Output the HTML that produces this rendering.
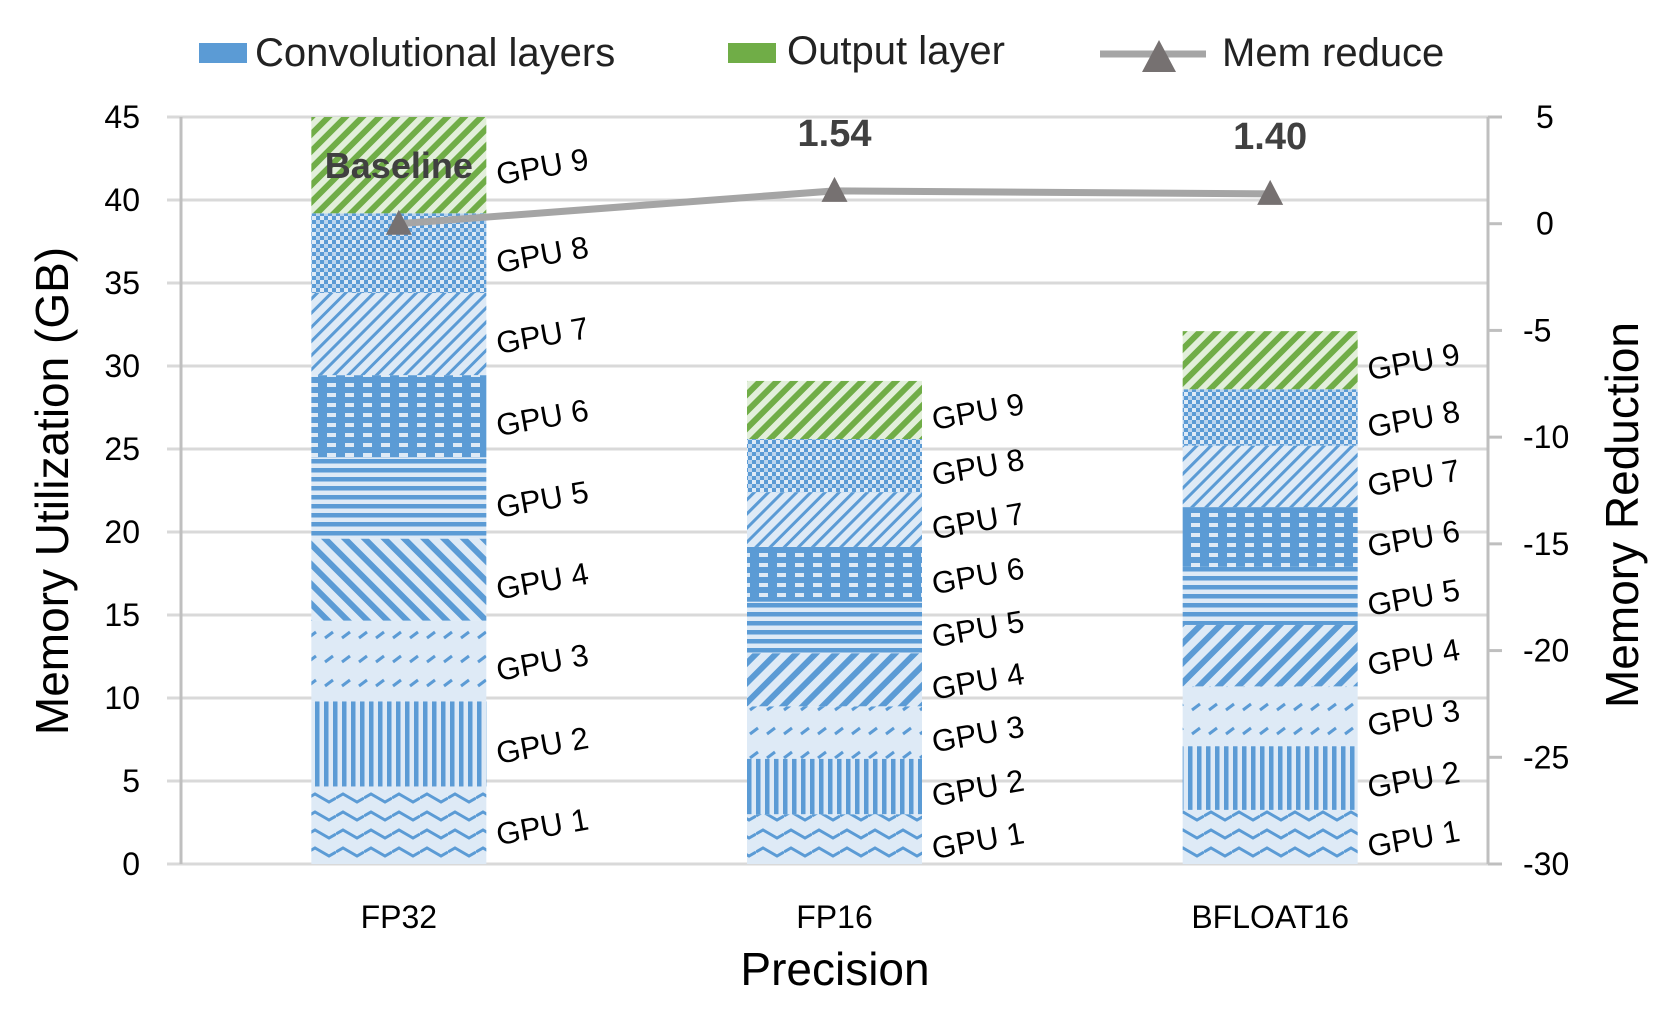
<!DOCTYPE html>
<html><head><meta charset="utf-8"><style>
body{margin:0;background:#fff;}
svg text{font-family:"Liberation Sans",sans-serif;}
</style></head><body>
<svg id="chart" width="1659" height="1008" viewBox="0 0 1659 1008" xmlns="http://www.w3.org/2000/svg">
<defs>
 <pattern id="p1" width="28" height="18" patternUnits="userSpaceOnUse"><rect width="28" height="18" fill="#deeaf6"/><path d="M0 6 L7 2 L14 6 L21 10 L28 6" stroke="#5b9bd5" stroke-width="3" fill="none"/></pattern>
 <pattern id="p2" width="9" height="10" patternUnits="userSpaceOnUse"><rect width="9" height="10" fill="#deeaf6"/><rect x="0" width="4.5" height="10" fill="#5b9bd5"/></pattern>
 <pattern id="p3" width="17" height="24" patternUnits="userSpaceOnUse"><rect width="17" height="24" fill="#deeaf6"/><path d="M2 14 L10 8" stroke="#5b9bd5" stroke-width="3"/></pattern>
 <pattern id="p4a" width="14" height="14" patternUnits="userSpaceOnUse" patternTransform="rotate(45)"><rect width="14" height="14" fill="#deeaf6"/><rect width="6" height="14" fill="#5b9bd5"/></pattern>
 <pattern id="p4b" width="14" height="14" patternUnits="userSpaceOnUse" patternTransform="rotate(-45)"><rect width="14" height="14" fill="#deeaf6"/><rect width="6" height="14" fill="#5b9bd5"/></pattern>
 <pattern id="p5" width="10" height="9" patternUnits="userSpaceOnUse"><rect width="10" height="9" fill="#deeaf6"/><rect y="0" width="10" height="4.5" fill="#5b9bd5"/></pattern>
 <pattern id="p6" width="18" height="10" patternUnits="userSpaceOnUse"><rect width="18" height="10" fill="#5b9bd5"/><rect x="3" y="3" width="9" height="4" fill="#deeaf6"/></pattern>
 <pattern id="p7" width="10" height="10" patternUnits="userSpaceOnUse" patternTransform="rotate(45)"><rect width="10" height="10" fill="#deeaf6"/><rect width="3" height="10" fill="#5b9bd5"/></pattern>
 <pattern id="p8" width="8" height="8" patternUnits="userSpaceOnUse"><rect width="8" height="8" fill="#5b9bd5"/><rect width="4" height="4" fill="#deeaf6"/><rect x="4" y="4" width="4" height="4" fill="#bcd5ee"/></pattern>
 <pattern id="p9" width="12" height="12" patternUnits="userSpaceOnUse" patternTransform="rotate(45)"><rect width="12" height="12" fill="#e2efda"/><rect width="6" height="12" fill="#70ad47"/></pattern>
</defs>
<g id="grid"></g><g id="bars"></g><g id="labels"></g><g id="line"></g><g id="axes"></g>
<g>
 <rect x="199" y="43" width="48" height="20" fill="#5b9bd5"/>
 <text x="255" y="66" font-size="40" fill="#222">Convolutional layers</text>
 <rect x="728" y="43" width="48" height="20" fill="#70ad47"/>
 <text x="787" y="64" font-size="40" fill="#222">Output layer</text>
 <line x1="1100" y1="54" x2="1206" y2="54" stroke="#a5a5a5" stroke-width="7"/>
 <polygon points="1159,40 1142,72 1176,72" fill="#767171"/>
 <text x="1222" y="66" font-size="40" fill="#222">Mem reduce</text>
</g>
<text transform="translate(68,491) rotate(-90)" text-anchor="middle" font-size="46" fill="#000">Memory Utilization (GB)</text>
<text transform="translate(1638,515) rotate(-90)" text-anchor="middle" font-size="46" fill="#000">Memory Reduction</text>
<text x="835" y="985" text-anchor="middle" font-size="46" fill="#000">Precision</text>
</svg>
<script>
const categories = ["FP32","FP16","BFLOAT16"];
const segFP32 = [4.67,5.13,4.86,4.94,4.9,4.95,4.95,4.8,5.8];
const segFP16 = [3.0,3.34,3.16,3.2,3.1,3.3,3.3,3.2,3.5];
const segBF16 = [3.26,3.84,3.6,3.7,3.5,3.6,3.7,3.4,3.5];
const memReduce = [0,1.54,1.40];
const memLabels = ["Baseline","1.54","1.40"];
const leftTicks = [0,5,10,15,20,25,30,35,40,45];
const rightTicks = [-30,-25,-20,-15,-10,-5,0,5];
const NS="http://www.w3.org/2000/svg";
const X0=181,X1=1488,Y0=864,Y1=117;
const yL=v=>Y0-(v/45)*(Y0-Y1);
const yR=v=>Y0-((v+30)/35)*(Y0-Y1);
const bandW=(X1-X0)/categories.length;
const xC=i=>X0+bandW*(i+0.5);
const BW=175;
function mk(t,a,p){const e=document.createElementNS(NS,t);for(const k in a)e.setAttribute(k,a[k]);p.appendChild(e);return e;}
const grid=document.getElementById('grid'),axes=document.getElementById('axes');
leftTicks.forEach(v=>{
 const l=mk('line',{x1:X0-14,x2:X1,y1:yL(v),y2:yL(v),stroke:'#d9d9d9','stroke-width':3},grid);
 
 
 const t=mk('text',{x:140,y:yL(v)+11,'text-anchor':'end','font-size':32,fill:'#000'},axes);t.textContent=v;
 
 
});
rightTicks.forEach(v=>{
 mk('line',{x1:X1,x2:X1+14,y1:yR(v),y2:yR(v),stroke:'#bfbfbf','stroke-width':3},axes);
 const t=mk('text',{x:v<0?1523:1536,y:yR(v)+11,'font-size':32,fill:'#000'},axes);t.textContent=v;
 
 
});
let a1=mk('line',{x1:X0,x2:X0,y1:Y1,y2:Y0,stroke:'#bfbfbf','stroke-width':3},axes);


let a2=mk('line',{x1:X1,x2:X1,y1:Y1,y2:Y0,stroke:'#bfbfbf','stroke-width':3},axes);


const bars=document.getElementById('bars'),labels=document.getElementById('labels');
[segFP32,segFP16,segBF16].forEach((segs,i)=>{
 let cum=0;const cx=xC(i);
 segs.forEach((s,j)=>{
  const top=cum+s;
  let fill='url(#p'+(j+1)+')';
  if(j===3) fill=i===0?'url(#p4b)':'url(#p4a)';
  const r=mk('rect',{x:cx-BW/2,y:yL(top),width:BW,height:yL(cum)-yL(top),fill:fill},bars);
  
  
  const my=(yL(cum)+yL(top))/2;
  const t=mk('text',{x:cx+BW/2+12,y:my+20,'font-size':31,fill:'#000',transform:`rotate(-10 ${cx+BW/2+12} ${my+20})`},labels);
  t.textContent='GPU '+(j+1);
  
  
  cum=top;
 });
 const c=mk('text',{x:cx,y:928,'text-anchor':'middle','font-size':32,fill:'#000'},axes);c.textContent=categories[i];
 
 
});
const lg=document.getElementById('line');
const pl=mk('polyline',{points:memReduce.map((v,i)=>xC(i)+','+yR(v)).join(' '),fill:'none',stroke:'#a5a5a5','stroke-width':7},lg);


memReduce.forEach((v,i)=>{
 const x=xC(i),y=yR(v);
 const m=mk('polygon',{points:`${x},${y-14} ${x-13},${y+11} ${x+13},${y+11}`,fill:'#767171'},lg);
 
 
 const t=mk('text',{x:x,y:i===0?178:y-45,'text-anchor':'middle','font-size':i===0?36:38,'font-weight':'bold',fill:'#404040'},lg);
 t.textContent=memLabels[i];
 
 
});
</script>
</body></html>
